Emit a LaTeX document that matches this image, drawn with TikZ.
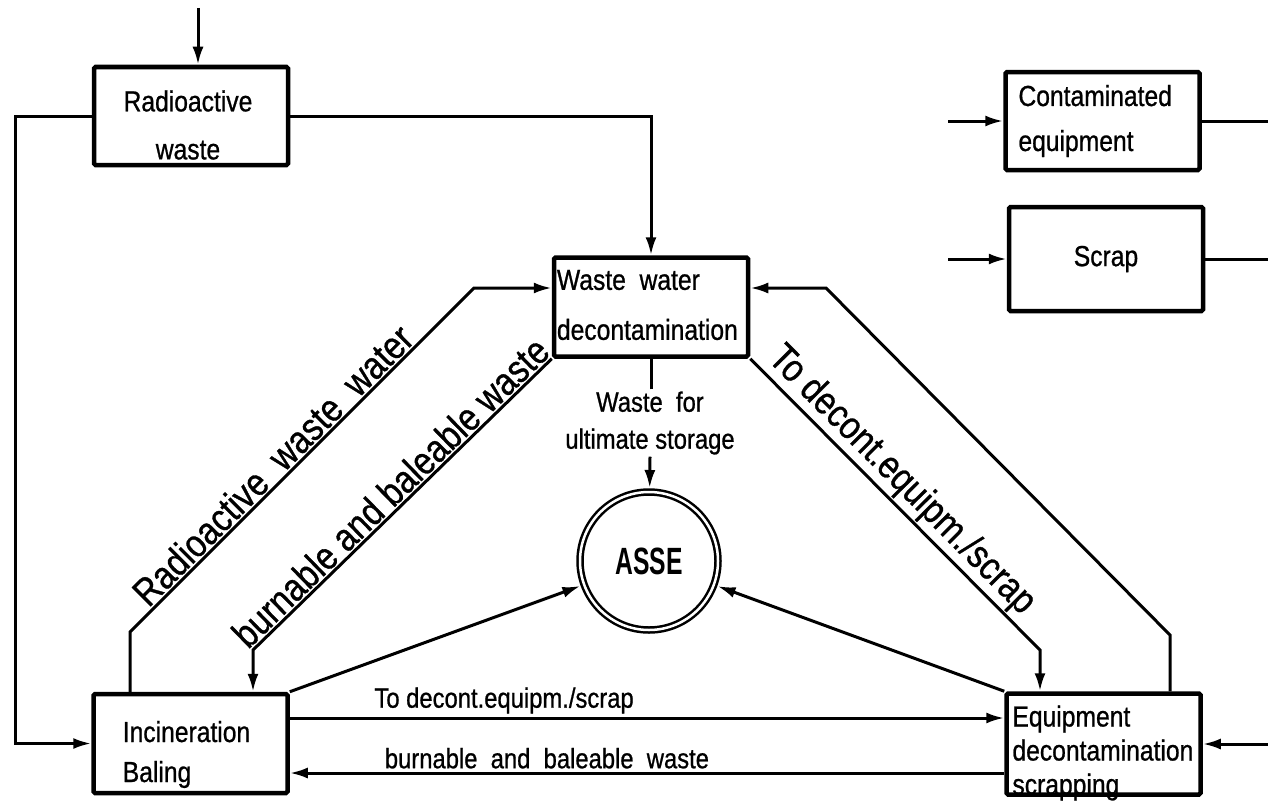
\documentclass[tikz,border=0pt]{standalone}
\usepackage{fontspec}
\setmainfont[FakeStretch=0.85, FakeBold=0.8]{Liberation Sans}
\newfontfamily\assefont[FakeStretch=0.65]{Liberation Sans}
\usetikzlibrary{arrows.meta}
\tikzset{
      box/.style={draw=black, line width=4.5pt, rounded corners=1.5pt, minimum width=194pt},
      txt/.style={font=\fontsize{29}{40}\selectfont, inner sep=0pt},
      flow/.style={draw=black, line width=3pt, -{Latex[length=18pt,width=11pt]}},
      pipe/.style={draw=black, line width=3pt},
      tag/.style={font=\fontsize{28}{37}\selectfont, inner sep=3pt},
      bigtag/.style={font=\fontsize{39}{42}\selectfont, inner sep=1.5pt},
}
\begin{document}
\begin{tikzpicture}[x=1pt,y=-1pt]
        \useasboundingbox (0,0) rectangle (1268,800);

        % Draw the boxes
        \node[box, minimum height=98pt] (rw) at (191,116) {};
        \node[box, minimum height=99pt] (wwd) at (651,307) {};
        \node[box, minimum height=99pt] (inc) at (190.5,743.5) {};
        \node[box, minimum height=101pt] (equ) at (1103.5,744) {};
        \node[box, minimum height=98pt] (con) at (1102.5,121) {};
        \node[box, minimum height=104pt] (scr) at (1106,259) {};
        \node[draw=black, circle, double, line width=2.5pt, double distance=2.5pt, minimum size=138pt,
              inner sep=0pt, outer sep=4pt, font=\assefont\bfseries\fontsize{38}{40}\selectfont] (asse) at (649,561) {ASSE};

        % Texts in the boxes
        \node[txt, align=center, font=\fontsize{29}{48}\selectfont] (rwt) at ([xshift=-3pt,yshift=-9pt]rw.center) {Radioactive\\waste};
        \node[txt, align=left, font=\fontsize{29}{50}\selectfont, anchor=west] (wwdt) at ([xshift=5pt,yshift=2pt]wwd.west) {Waste\ \ water\\decontamination};
        \node[txt, align=left] (inct) at ([xshift=-4pt,yshift=-11pt]inc.center) {Incineration\\Baling};
        \node[txt, align=left, font=\fontsize{29}{34}\selectfont, anchor=west] (equt) at ([xshift=8pt,yshift=-9pt]equ.west) {Equipment\\decontamination\\scrapping};
        \node[txt, align=left, font=\fontsize{29}{45}\selectfont, anchor=west] (cont) at ([xshift=15pt]con.west) {Contaminated\\equipment};
        \node[txt] (scrt) at (scr.center) {Scrap};
        \node[tag, align=center, inner sep=2pt] (wfs) at (650,423) {Waste\ \ for\\ultimate storage};

        % Corners of the lines
        \coordinate (top) at (198,8);
        \coordinate (lft) at (15,400);
        \coordinate (rww1) at (130,632);
        \coordinate (rww2) at (474,288);
        \coordinate (bbw1) at (253,650);
        \coordinate (tde1) at (1040,650);
        \coordinate (ret1) at (1170,635);
        \coordinate (ret2) at (826,288);
        \coordinate (conin) at (948,121);
        \coordinate (conout) at (1268,121);
        \coordinate (scrin) at (948,259);
        \coordinate (scrout) at (1268,259);
        \coordinate (equin) at (1268,744);

        % Draw the waste flows
        \draw[flow] (top) -- (top |- rw.north);
        \draw[flow] (rw.west) -| (lft) |- (inc.west);
        \draw[flow] (rw.east) -| (wwd.north);
        \draw[flow] (inc.north -| rww1) -- (rww1) -- node[bigtag, sloped, above, pos=0.45] {Radioactive\ \ waste\ \ water} (rww2) -- (wwd.west |- rww2);
        \draw[flow] (wwd.south west) -- node[bigtag, sloped, above, pos=0.5] {burnable and baleable waste} (bbw1) -- (bbw1 |- inc.north);
        \draw[flow] (wwd.south east) -- node[bigtag, sloped, above, pos=0.47] {To decont.equipm./scrap} (tde1) -- (tde1 |- equ.north);
        \draw[flow] (equ.north -| ret1) -- (ret1) -- (ret2) -- (wwd.east |- ret2);

        % Draw the flows to storage
        \draw[pipe] (wfs.north -| wwd.south) -- (wwd.south);
        \draw[flow] (wfs.south) -- (asse);
        \draw[flow] (inc.north east) -- (asse);
        \draw[flow] (equ.north west) -- (asse);

        % Draw the bottom exchange
        \draw[flow] ([yshift=25.5pt]inc.east) -- node[tag, above, pos=0.3] {To decont.equipm./scrap} ([yshift=26pt]equ.west);
        \draw[flow] ([yshift=-29pt]equ.west) -- node[tag, above, pos=0.64] {burnable\ \ and\ \ baleable\ \ waste} ([yshift=-29.5pt]inc.east);

        % Draw the inputs on the right
        \draw[flow] (equin) -- (equ.east);
        \draw[flow] (conin) -- (con.west);
        \draw[pipe] (con.east) -- (conout);
        \draw[flow] (scrin) -- (scr.west);
        \draw[pipe] (scr.east) -- (scrout);

\end{tikzpicture}
\end{document}
